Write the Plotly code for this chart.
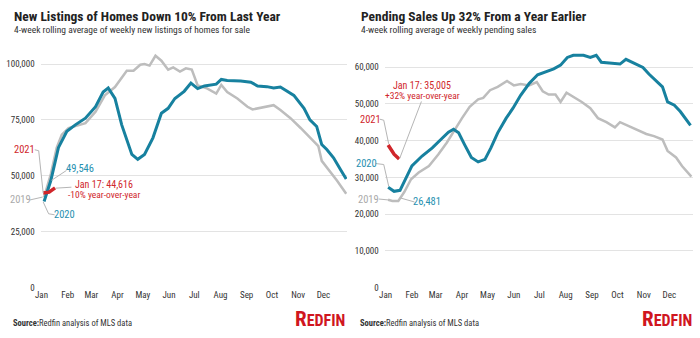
import plotly.graph_objects as go

# ---------------- DATA ----------------
month_ticks = [0, 31, 59, 90, 120, 151, 181, 212, 243, 273, 304, 334]
month_labels = ["Jan", "Feb", "Mar", "Apr", "May", "Jun", "Jul", "Aug", "Sep", "Oct", "Nov", "Dec"]

# New listings (thousands), x = day of year
nl_2019_day = [3, 11, 18, 24, 32, 52, 64, 75, 87, 95, 101, 109, 117, 122, 128, 135, 142, 150, 156, 164,
               171, 178, 185, 195, 207, 213, 220, 232, 244, 250, 260, 275, 283, 295, 307, 318, 328, 332,
               340, 350, 361]
nl_2019 = [40.5, 50.8, 62.6, 68.4, 71.4, 73.6, 78.7, 86.0, 89.7, 94.1, 97.0, 97.0, 99.7, 100.0, 99.3, 103.7,
           101.5, 97.5, 98.5, 96.6, 98.1, 97.5, 90.4, 89.3, 86.8, 90.7, 87.5, 84.6, 80.9, 79.7, 80.5, 81.6,
           79.4, 75.8, 71.4, 67.0, 63.3, 56.7, 53.0, 47.9, 42.0]
nl_2020_day = [3, 11, 20, 30, 40, 52, 64, 73, 79, 87, 95, 107, 114, 122, 132, 142, 150, 158, 169, 177,
               185, 193, 207, 213, 220, 236, 248, 256, 267, 275, 283, 299, 311, 318, 326, 332, 338, 346,
               354, 361]
nl_2020 = [38.5, 47.9, 62.6, 69.9, 72.8, 75.8, 80.9, 87.5, 89.3, 84.6, 72.8, 59.6, 57.4, 59.6, 67.0, 78.0,
           80.2, 84.6, 87.8, 91.5, 89.0, 90.2, 91.0, 93.1, 92.6, 92.4, 91.9, 90.2, 89.9, 89.3, 89.7, 86.0,
           80.2, 75.0, 72.1, 64.0, 61.8, 58.1, 53.0, 48.6]
nl_2021_day = [2, 9, 16]
nl_2021 = [42.3, 42.7, 44.616]

# Pending sales (thousands)
ps_2019_day = [3, 8, 15, 22, 30, 39, 51, 62, 72, 80, 90, 99, 109, 115, 123, 132, 143, 151, 159, 169, 178,
               185, 192, 200, 206, 213, 221, 231, 241, 250, 260, 270, 276, 287, 299, 307, 316, 326, 332,
               342, 349, 360]
ps_2019 = [23.9, 23.6, 23.6, 26.0, 29.5, 31.3, 33.1, 36.2, 39.4, 42.5, 46.1, 49.2, 51.2, 51.6, 53.7, 54.6,
           56.2, 55.0, 55.4, 55.0, 55.9, 53.4, 52.5, 52.5, 50.5, 53.0, 51.9, 50.5, 48.8, 46.1, 45.0, 43.6,
           45.0, 43.8, 42.5, 41.8, 41.2, 40.3, 37.2, 35.4, 33.1, 30.2]
ps_2020_day = [3, 10, 17, 24, 31, 43, 55, 66, 74, 80, 86, 93, 101, 109, 117, 124, 132, 142, 150, 159, 169,
               179, 188, 198, 206, 214, 221, 233, 241, 248, 254, 264, 276, 283, 291, 303, 310, 318, 326,
               332, 340, 347, 353, 359]
ps_2020 = [27.3, 26.2, 26.481, 30.0, 33.1, 35.8, 38.0, 40.5, 42.3, 43.1, 42.1, 38.9, 35.4, 34.2, 34.9, 38.0,
           42.1, 46.1, 48.8, 52.3, 55.5, 57.9, 58.6, 59.5, 60.5, 62.6, 63.2, 63.2, 62.6, 63.2, 61.3, 61.1,
           60.8, 62.1, 61.3, 59.9, 58.1, 56.3, 54.6, 50.5, 49.6, 47.9, 46.1, 44.1]
ps_2021_day = [3, 10, 16]
ps_2021 = [38.8, 36.3, 35.005]

# ---------------- STYLE ----------------
BLUE = "#17819f"
GRAY = "#bdbdbd"
RED = "#d0262b"
TXT_BLUE = "#2690b0"
TXT_GRAY = "#aaaaaa"
FONT = "Liberation Sans Narrow, Roboto Condensed, Roboto, sans-serif"
W, H = 700, 338

def px(x):
    return x / W

def py(y):
    return 1 - y / H

fig = go.Figure()

def add_lines(xa, ya, d19, v19, d20, v20, d21, v21):
    fig.add_trace(go.Scatter(x=d19, y=v19, mode="lines", line=dict(color=GRAY, width=2.5),
                             xaxis=xa, yaxis=ya, hoverinfo="skip"))
    fig.add_trace(go.Scatter(x=d20, y=v20, mode="lines", line=dict(color=BLUE, width=3),
                             xaxis=xa, yaxis=ya, hoverinfo="skip"))
    fig.add_trace(go.Scatter(x=d21, y=v21, mode="lines", line=dict(color=RED, width=3.5),
                             xaxis=xa, yaxis=ya, hoverinfo="skip"))

add_lines("x", "y", nl_2019_day, nl_2019, nl_2020_day, nl_2020, nl_2021_day, nl_2021)
add_lines("x2", "y2", ps_2019_day, ps_2019, ps_2020_day, ps_2020, ps_2021_day, ps_2021)

ydom = [py(292), py(50)]
xcommon = dict(range=[-1, 362], tickvals=month_ticks, ticktext=month_labels, showgrid=False,
               zeroline=False, showline=False, ticks="", tickfont=dict(family=FONT, size=9, color="#333"),
               fixedrange=True)
ycommon = dict(showgrid=True, gridcolor="#e3e3e3", gridwidth=1, zeroline=False, showline=False,
               ticks="", tickfont=dict(family=FONT, size=9, color="#333"), fixedrange=True,
               ticklabelstandoff=5)

fig.update_layout(
    width=W, height=H, margin=dict(l=0, r=0, t=0, b=0),
    paper_bgcolor="white", plot_bgcolor="white", showlegend=False,
    xaxis=dict(domain=[px(35), px(344)], anchor="y", **xcommon),
    yaxis=dict(domain=ydom, anchor="x", range=[0, (292 - 50) / 2.27],
               tickvals=[0, 25, 50, 75, 100], ticktext=["0", "25,000", "50,000", "75,000", "100,000"],
               **ycommon),
    xaxis2=dict(domain=[px(382), px(693)], anchor="y2", **xcommon),
    yaxis2=dict(domain=ydom, anchor="x2", range=[0, (292 - 50) / 3.733],
                tickvals=[0, 10, 20, 30, 40, 50, 60],
                ticktext=["0", "10,000", "20,000", "30,000", "40,000", "50,000", "60,000"],
                **ycommon),
)

ann = []
shapes = []

def text(x, y, s, color, size=10.5, xanchor="center", bold=False):
    ann.append(dict(x=px(x), y=py(y), xref="paper", yref="paper", text=("<b>%s</b>" % s) if bold else s,
                    showarrow=False, xanchor=xanchor, yanchor="middle",
                    font=dict(family=FONT, size=size, color=color)))

def leader(points):
    path = "M " + " L ".join("%f,%f" % (px(a), py(b)) for a, b in points)
    shapes.append(dict(type="path", path=path, xref="paper", yref="paper",
                       line=dict(color="#b5b5b5", width=1)))

# Titles
for x0, t, sub in [(6, "New Listings of Homes Down 10% From Last Year",
                    "4-week rolling average of weekly new listings of homes for sale"),
                   (356, "Pending Sales Up 32% From a Year Earlier",
                    "4-week rolling average of weekly pending sales")]:
    text(x0, 16, t, "#222", size=13.5, xanchor="left", bold=True)
    text(x0, 30, sub, "#333", size=9.5, xanchor="left")
    ann.append(dict(x=px(x0 - 1), y=py(328), xref="paper", yref="paper", showarrow=False,
                    xanchor="left", yanchor="middle",
                    text="<b>Source:</b>Redfin analysis of MLS data",
                    font=dict(family=FONT, size=8.5, color="#333")))

for xr in [344, 694]:
    ann.append(dict(x=px(xr), y=py(324), xref="paper", yref="paper", showarrow=False,
                    xanchor="right", yanchor="middle",
                    text="<b>R<span style='font-size:16px'>EDFIN</span></b>",
                    font=dict(family=FONT, size=21, color="#d0161f")))

# Left annotations
text(19, 152, "2021", RED)
leader([(29, 152), (33, 153), (37.5, 196)])
text(15, 202, "2019", TXT_GRAY)
leader([(24, 203), (37, 200)])
text(59, 218, "2020", TXT_BLUE)
leader([(37.5, 205), (43, 217), (49, 218)])
text(75, 171, "49,546", TXT_BLUE)
leader([(61, 173), (46, 183)])
text(99, 187, "Jan 17: 44,616", RED, size=10)
text(99, 197, "-10% year-over-year", RED, size=9.5)
leader([(50, 191), (66, 190)])

# Right annotations
text(368, 121, "2021", RED)
leader([(377, 121), (381, 122), (386, 146)])
text(364, 166, "2020", TXT_BLUE)
leader([(373, 166), (381, 167), (386, 189)])
text(366, 202, "2019", TXT_GRAY)
leader([(376, 202), (386, 203)])
text(425, 205, "26,481", TXT_BLUE)
leader([(398, 201), (412, 205)])
text(420, 87, "Jan 17: 35,005", RED, size=10)
text(420, 97, "+32% year-over-year", RED, size=9.5)
leader([(397, 161), (419, 103)])

fig.update_layout(annotations=ann, shapes=shapes)
fig.write_html("out.html")
